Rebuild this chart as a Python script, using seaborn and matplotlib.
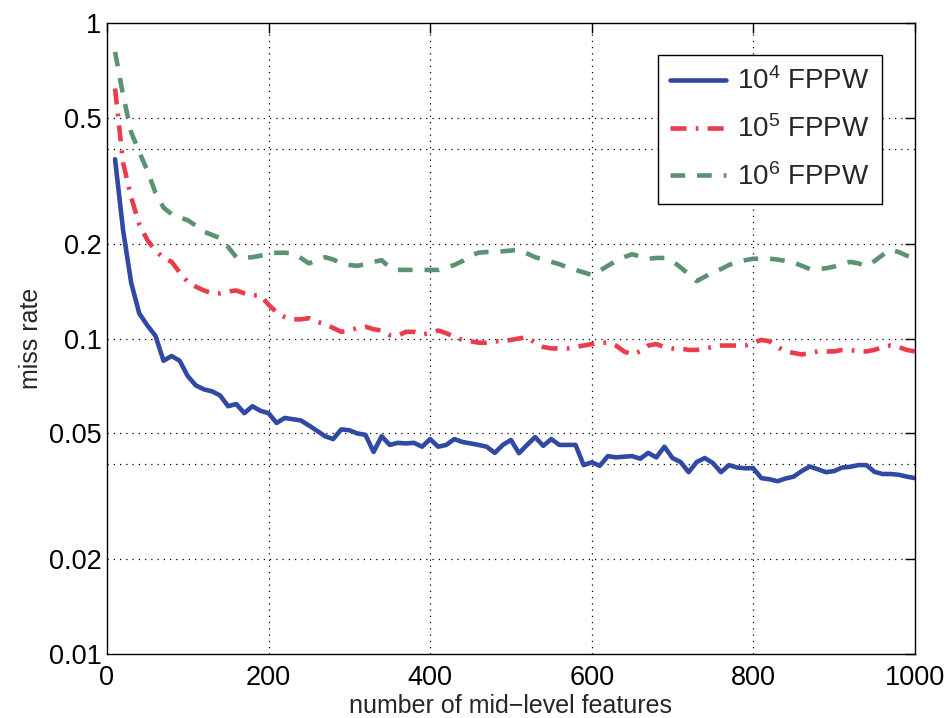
import matplotlib
matplotlib.use("Agg")
import matplotlib.pyplot as plt
import numpy as np
import pandas as pd
import seaborn as sns

# number of mid-level features (shared x for all curves)
features = list(range(10, 1001, 10))

miss_1e4 = [
    0.37, 0.22, 0.15, 0.12, 0.11, 0.102, 0.085, 0.088, 0.085, 0.076,
    0.071, 0.069, 0.068, 0.066, 0.061, 0.062, 0.058, 0.061, 0.059, 0.058,
    0.054, 0.056, 0.0555, 0.055, 0.053, 0.051, 0.049, 0.048, 0.0515, 0.0512,
    0.050, 0.0495, 0.0437, 0.049, 0.046, 0.0467, 0.0465, 0.0467, 0.0454, 0.048,
    0.0454, 0.046, 0.048, 0.047, 0.0465, 0.046, 0.0454, 0.0434, 0.046, 0.0477,
    0.0433, 0.046, 0.0487, 0.0457, 0.048, 0.046, 0.046, 0.046, 0.0397, 0.0405,
    0.0395, 0.0424, 0.042, 0.0422, 0.0424, 0.0416, 0.0434, 0.042, 0.0454, 0.0418,
    0.0406, 0.0377, 0.0406, 0.0418, 0.0403, 0.0377, 0.0397, 0.039, 0.0388, 0.0388,
    0.0361, 0.0358, 0.0353, 0.036, 0.0365, 0.038, 0.0393, 0.0385, 0.0377, 0.038,
    0.039, 0.0392, 0.0397, 0.0397, 0.0378, 0.0372, 0.0372, 0.037, 0.0365, 0.0361,
]

miss_1e5 = [
    0.62, 0.36, 0.28, 0.23, 0.205, 0.19, 0.18, 0.175, 0.162, 0.151,
    0.146, 0.142, 0.139, 0.139, 0.141, 0.142, 0.139, 0.137, 0.137, 0.128,
    0.121, 0.117, 0.115, 0.115, 0.116, 0.113, 0.111, 0.108, 0.105, 0.106,
    0.108, 0.109, 0.107, 0.106, 0.1025, 0.102, 0.105, 0.105, 0.103, 0.104,
    0.106, 0.104, 0.101, 0.099, 0.098, 0.097, 0.097, 0.098, 0.098, 0.099,
    0.100, 0.101, 0.097, 0.094, 0.093, 0.093, 0.093, 0.094, 0.095, 0.096,
    0.097, 0.097, 0.095, 0.091, 0.089, 0.091, 0.095, 0.096, 0.094, 0.093,
    0.093, 0.092, 0.092, 0.093, 0.094, 0.095, 0.095, 0.095, 0.095, 0.097,
    0.099, 0.098, 0.094, 0.091, 0.090, 0.089, 0.090, 0.091, 0.091, 0.091,
    0.092, 0.092, 0.091, 0.091, 0.092, 0.094, 0.095, 0.094, 0.092, 0.091,
]

miss_1e6 = [
    0.81, 0.59, 0.45, 0.39, 0.34, 0.29, 0.26, 0.248, 0.242, 0.237,
    0.228, 0.218, 0.213, 0.208, 0.195, 0.181, 0.18, 0.181, 0.183, 0.186,
    0.187, 0.187, 0.186, 0.18, 0.173, 0.177, 0.181, 0.178, 0.173, 0.171,
    0.17, 0.172, 0.175, 0.177, 0.168, 0.165, 0.165, 0.165, 0.165, 0.165,
    0.165, 0.168, 0.171, 0.176, 0.183, 0.187, 0.188, 0.188, 0.189, 0.19,
    0.191, 0.186, 0.181, 0.178, 0.175, 0.172, 0.168, 0.165, 0.162, 0.159,
    0.164, 0.17, 0.176, 0.181, 0.185, 0.182, 0.179, 0.18, 0.18, 0.176,
    0.168, 0.16, 0.152, 0.157, 0.162, 0.166, 0.171, 0.175, 0.177, 0.179,
    0.179, 0.179, 0.178, 0.176, 0.174, 0.17, 0.166, 0.166, 0.167, 0.169,
    0.172, 0.175, 0.173, 0.17, 0.176, 0.184, 0.191, 0.188, 0.183, 0.18,
]

series_names = ["1e4", "1e5", "1e6"]
legend_labels = [r"$10^4$ FPPW", r"$10^5$ FPPW", r"$10^6$ FPPW"]
y_ticks = [0.01, 0.02, 0.05, 0.1, 0.2, 0.5, 1]
y_tick_labels = ["0.01", "0.02", "0.05", "0.1", "0.2", "0.5", "1"]
x_ticks = [0, 200, 400, 600, 800, 1000]

df = pd.DataFrame({
    "features": features * 3,
    "miss": miss_1e4 + miss_1e5 + miss_1e6,
    "fppw": np.repeat(series_names, len(features)),
})

sns.set_style("white")
plt.rcParams["font.family"] = ["Liberation Sans", "DejaVu Sans"]
plt.rcParams["mathtext.default"] = "regular"

palette = {"1e4": "#3049a3", "1e5": "#eb3c4b", "1e6": "#5b9270"}
dashes = {"1e4": "", "1e5": (3.5, 2.0, 0.6, 2.0), "1e6": (3.2, 2.6)}

fig, ax = plt.subplots(figsize=(9.5, 7.18), dpi=100)
fig.subplots_adjust(left=0.1126, right=0.963, bottom=0.0891, top=0.968)

sns.lineplot(data=df, x="features", y="miss", hue="fppw", style="fppw",
             palette=palette, dashes=dashes, linewidth=3.3, legend=False, ax=ax)

ax.set_yscale("log")
ax.set_xlim(0, 1000)
ax.set_ylim(0.01, 1)
ax.set_yticks(y_ticks)
ax.set_yticklabels(y_tick_labels)
ax.yaxis.set_minor_locator(matplotlib.ticker.NullLocator())
ax.set_xticks(x_ticks)
ax.set_xticklabels([str(t) for t in x_ticks])

ax.tick_params(axis="both", direction="in", length=7, width=1, top=True,
               right=True, labelsize=19.5, colors="black", pad=4)
ax.tick_params(axis="x", pad=8)
for s in ax.spines.values():
    s.set_visible(True)
    s.set_color("black")
    s.set_linewidth(1.0)

ax.set_xlabel("number of mid\u2212level features", fontsize=18, labelpad=2)
ax.set_ylabel("miss rate", fontsize=18, labelpad=4)

handles = list(ax.lines[:3])
leg = ax.legend(handles, legend_labels, loc="upper right",
                bbox_to_anchor=(0.959, 0.949), borderaxespad=0,
                fontsize=20, frameon=True,
                fancybox=False, edgecolor="black", framealpha=1,
                handlelength=2.0, handletextpad=0.4, borderpad=0.45,
                labelspacing=0.72)
leg.get_frame().set_linewidth(1.0)

grid_style = dict(color="black", linestyle=(0, (1, 4)), linewidth=0.9, zorder=0)
for gx in [200, 400, 600, 800]:
    ax.axvline(gx, **grid_style)
for gy in [0.02, 0.04, 0.05, 0.1, 0.2, 0.4, 0.5]:
    ax.axhline(gy, **grid_style)

fig.savefig("out.png", dpi=100)
